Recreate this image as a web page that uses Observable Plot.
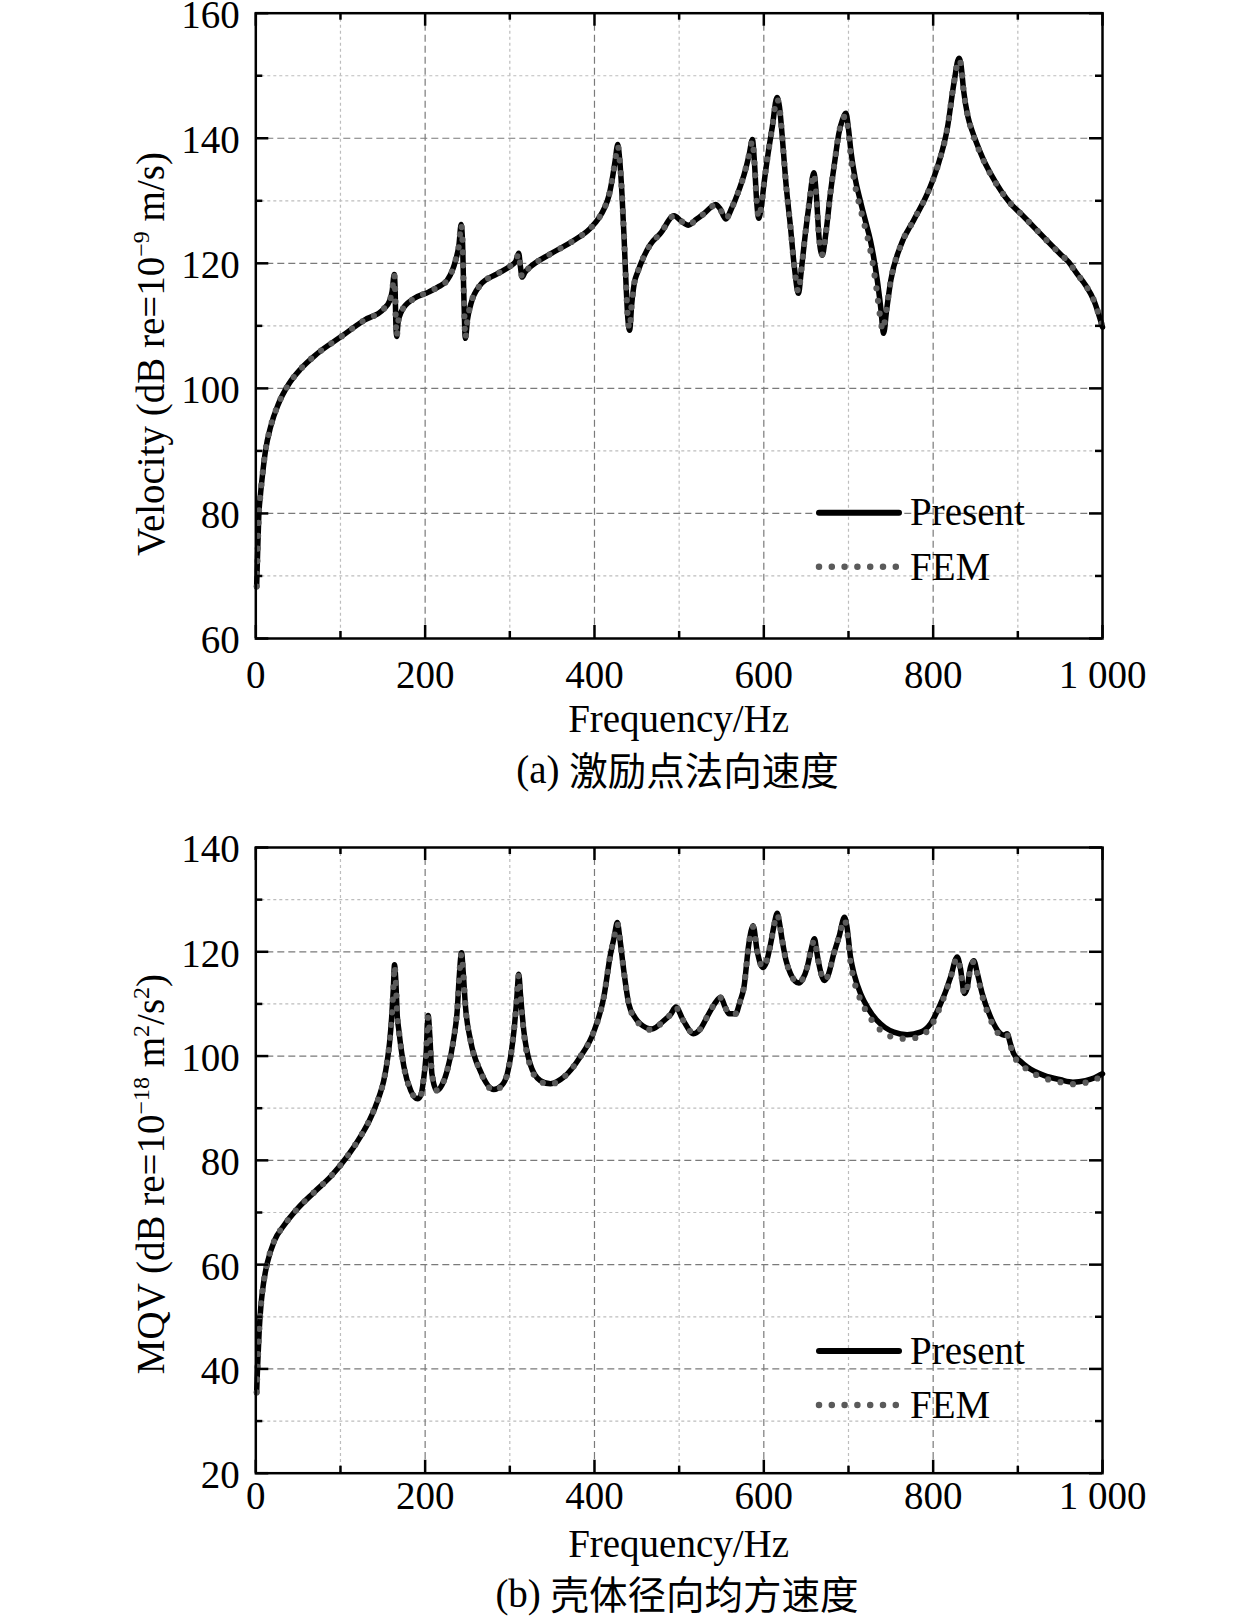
<!DOCTYPE html>
<html>
<head>
<meta charset="utf-8">
<script src="https://cdn.jsdelivr.net/npm/d3@7"></script>
<script src="https://cdn.jsdelivr.net/npm/@observablehq/plot@0.6"></script>
<style>
  body { margin: 0; background: white; }
  #wrap { position: relative; width: 1260px; height: 1619px; background: white; }
  #c1, #c2 { position: absolute; left: 0; }
  #c1 { top: 0; }
  #c2 { top: 800px; }
  #ov { position: absolute; left: 0; top: 0; pointer-events: none; }
</style>
</head>
<body>
<div id="wrap">
  <div id="c1"></div>
  <div id="c2"></div>
  <svg id="ov" width="1260" height="1619" font-family="'Liberation Serif','Times New Roman',serif" font-size="39" fill="black">
    <!-- chart (a) texts -->
    <text x="678.6" y="731.7" text-anchor="middle">Frequency/Hz</text>
    <text x="677.5" y="783" text-anchor="middle">(a) <tspan font-family="'Noto Sans CJK SC'" font-size="38.5" dy="2">激励点法向速度</tspan></text>
    <text transform="translate(164,354) rotate(-90)" text-anchor="middle">Velocity (dB re=10<tspan font-size="24" dy="-15">−9</tspan><tspan dy="15"> m/s)</tspan></text>
    <line x1="819" x2="899" y1="512.7" y2="512.7" stroke="black" stroke-width="6" stroke-linecap="round"/>
    <text x="910" y="525.2">Present</text>
    <line x1="819" x2="897" y1="566.7" y2="566.7" stroke="#5a5a5a" stroke-width="6.5" stroke-dasharray="0 12.8" stroke-linecap="round"/>
    <text x="910" y="579.8">FEM</text>
    <!-- chart (b) texts -->
    <text x="678.6" y="1556.7" text-anchor="middle">Frequency/Hz</text>
    <text x="677" y="1607" text-anchor="middle">(b) <tspan font-family="'Noto Sans CJK SC'" font-size="38.5" dy="2">壳体径向均方速度</tspan></text>
    <text transform="translate(164,1174) rotate(-90)" text-anchor="middle">MQV (dB re=10<tspan font-size="24" dy="-15">−18</tspan><tspan dy="15"> m</tspan><tspan font-size="24" dy="-15">2</tspan><tspan dy="15">/s</tspan><tspan font-size="24" dy="-15">2</tspan><tspan dy="15">)</tspan></text>
    <line x1="819" x2="899" y1="1351" y2="1351" stroke="black" stroke-width="6" stroke-linecap="round"/>
    <text x="910" y="1363.5">Present</text>
    <line x1="819" x2="897" y1="1405" y2="1405" stroke="#5a5a5a" stroke-width="6.5" stroke-dasharray="0 12.8" stroke-linecap="round"/>
    <text x="910" y="1418">FEM</text>
  </svg>
</div>
<script>
// ---------------- DATA ----------------
// x ticks (Hz)
const xMajor = [0, 200, 400, 600, 800, 1000];
const xMinor = [100, 300, 500, 700, 900];
// y ticks
const yMajorA = [60, 80, 100, 120, 140, 160];
const yMinorA = [70, 90, 110, 130, 150];
const yMajorB = [20, 40, 60, 80, 100, 120, 140];
const yMinorB = [30, 50, 70, 90, 110, 130];

// (a) drive-point normal velocity, Present  [Hz, dB]
const presentA = [
  [1,68.3],[2,73],[3.5,79.5],[5.5,83],[7.6,85.8],[11.5,90.1],[17.4,93.8],[27,97.6],[39,100.7],[53,103.1],
  [72,105.5],[100,108.2],[128,110.9],[151,112.7],[158,114],[161,115.5],[163.5,118.2],[164.5,116],[165.5,110],
  [166.5,108.3],[168,110.5],[172,112.3],[186,114.3],[204,115.4],[215,116.2],[226,117.3],[232,118.8],[236,120.5],
  [240,123],[242.5,126.2],[244,124],[245.5,116],[247.5,108],[250,111],[254,113.5],[265,116.5],[285,118.3],
  [300,119.5],[307,120.3],[310.5,121.6],[312.5,119.5],[314.5,117.8],[318,118.6],[324,119.4],[348,121.5],
  [375,123.6],[395,125.6],[405,127.2],[412,128.9],[417,130.8],[421,133.5],[424.5,136.5],[427.5,139],
  [429.5,137],[432.5,131],[435,124],[437,117.5],[439.5,111],[441.5,109.3],[444,113.5],[447,116.8],[451,118.6],
  [458,121],[466,123],[478,124.8],[494,127.6],[502,126.8],[511,126.1],[520,127],[529,127.9],[537,128.9],
  [543,129.4],[548,128.8],[555,127.1],[562,128.8],[569,131.1],[578,134.8],[583,137.6],[586.5,139.8],[589,136],
  [591.5,130],[594,127.2],[597,129],[600,132.5],[605,137.5],[610,141.8],[615.5,146.5],[618.5,145],[621.5,140.7],
  [626,133],[631.5,125.8],[636,119.5],[641,115.2],[644,118.5],[649,124.7],[654,130],[659,134.5],[662,131],
  [665,124.5],[669,121.3],[673,124.5],[679,131.6],[684,136.5],[688.5,140.7],[693,143],[697,144],[700,141.5],
  [703,137.8],[708,133.5],[714,130],[720,126.8],[726,123.6],[734,117.3],[738,113],[741.5,108.8],[745,112.5],
  [750,117.3],[761,122.6],[777,126.9],[793,131.1],[805,135.4],[817,141.8],[824.5,148.8],[830.5,152.8],
  [833,151.6],[836,147.6],[841,143.5],[846,141.2],[852,139],[860,136.4],[868,134.3],[880,131.6],[891,129.6],
  [903,128],[919,125.8],[931,124.1],[950,121.5],[960,120.2],[970,118.3],[980,116.5],[990,114],[1000,109.8]
];
// (a) FEM
const femA = [
  [1,68.3],[2,73],[3.5,79.5],[5.5,83],[7.6,85.8],[11.5,90.1],[17.4,93.8],[27,97.6],[39,100.7],[53,103.1],
  [72,105.5],[100,108.2],[128,110.9],[151,112.7],[158,114],[161,115.5],[163.5,118.2],[164.5,116],[165.5,110],
  [166.5,108.3],[168,110.5],[172,112.3],[186,114.3],[204,115.4],[215,116.2],[226,117.3],[232,118.8],[236,120.5],
  [240,123],[242.5,126.2],[244,124],[245.5,116],[247.5,108],[250,111],[254,113.5],[265,116.5],[285,118.3],
  [300,119.5],[307,120.3],[310.5,121.6],[312.5,119.5],[314.5,117.8],[318,118.6],[324,119.4],[348,121.5],
  [375,123.6],[395,125.6],[405,127.2],[412,128.9],[417,130.8],[421,133.5],[424.5,136.5],[427.5,138.8],
  [429.5,137],[432.5,131],[435,124],[437,117.5],[439.5,111],[441.5,109.5],[444,113.5],[447,116.8],[451,118.6],
  [458,121],[466,123],[478,124.8],[494,127.6],[502,126.8],[511,126.1],[520,127],[529,127.9],[537,128.9],
  [543,129.4],[548,128.8],[555,127.1],[562,128.8],[569,131.1],[578,134.8],[583,137.6],[586.5,139.6],[589,136],
  [591.5,130],[594,127.3],[597,129],[600,132.5],[605,137.5],[610,141.8],[615.5,146.3],[618.5,145],[621.5,140.7],
  [626,133],[631.5,125.8],[636,119.5],[641,115.4],[644,118.5],[649,124.7],[654,130],[659,134.3],[662,131],
  [665,124.5],[669,121.4],[673,124.5],[679,131.6],[684,136.5],[688.5,140.7],[693,143],[697,143.6],[700,140.8],
  [703,136.8],[708,132.3],[714,128.8],[720,125.5],[726,122],[733,116],[737,111.8],[740.5,109.3],[744.5,112.3],
  [750,117.3],[761,122.6],[777,126.9],[793,131.1],[805,135.4],[817,141.8],[824.5,148.8],[830.5,152.6],
  [833,151.6],[836,147.6],[841,143.5],[846,141],[852,138.8],[860,136.3],[868,134.2],[880,131.6],[891,129.6],
  [903,128],[919,125.8],[931,124.1],[950,121.5],[960,120.2],[970,118.3],[980,116.5],[990,114],[1000,109.8]
];

// (b) shell radial mean-square velocity, Present  [Hz, dB]
const presentB = [
  [1,35.5],[2,40],[4,47.3],[6,52],[8,55.1],[11,58.3],[14,60.6],[21.7,64.5],[33.6,67.6],[49,70.7],[69,73.9],
  [89,77],[108.7,80.9],[124.5,84.8],[134,87.6],[141,90.2],[146,92.4],[151,95.2],[155,98.8],[158,102.6],
  [160.5,107.5],[162.5,113],[163.8,117.5],[165.5,114],[167,108],[169,104.9],[175,97.9],[183,93.4],[191,91.8],
  [195,92.5],[198,95.3],[201,100],[203.6,107.8],[205.5,104],[208,96.6],[214,93.4],[220,94.5],[226,97.2],
  [234,103.6],[238,109],[240,114.5],[243,119.8],[245,116],[247.7,109.4],[253.6,103],[265,97.2],[281,93.6],
  [290,94.3],[297,96.6],[302,101],[305,105],[308,110.5],[310.6,115.7],[312.5,112],[316.5,104.9],[324,98.5],
  [336,95.3],[348,94.7],[364,96],[383,99.8],[399,104.6],[411,111.3],[419,119.6],[423,122.6],[427,125.6],
  [430,122.5],[434.6,116.4],[440.5,110],[447,107.6],[454,106.2],[468,105.2],[482,106.8],[490,108],[496,109.4],
  [505,106.8],[517,104.3],[525,105.2],[533,107.5],[541,109.8],[549,111.3],[554,109.5],[559,108.1],[566.5,108.1],
  [572,110.5],[576.5,113.2],[582.3,121.5],[587.4,125],[592,120.3],[598.8,117],[603,118],[608,121.5],[612,125],
  [615.8,127.4],[618.5,125.5],[621.7,122.2],[626,118.5],[631.5,115.8],[641.3,114],[646,114.8],[651.2,117],
  [656,120.5],[659.9,122.5],[662.5,120],[665,117.7],[671.7,114.5],[676,115.5],[682.6,119.6],[689,123],
  [695.3,126.6],[698,125],[702.4,119],[707,115.5],[714.2,112],[723,109.2],[733.9,106.8],[743,105.5],
  [753.5,104.6],[769.3,104.1],[785,104.6],[796.9,106.2],[808.7,110],[815,112.5],[820.5,115.1],[828.4,119],
  [832,117],[837,112],[840,113],[844,117],[848,118.3],[852,116],[857.9,112],[867.7,107.5],[879.5,104.3],
  [884,104],[887.4,104.3],[891,102.5],[895.3,100.4],[903,99],[911.1,97.9],[930.7,96.3],[950.4,95.45],
  [965,95],[980,95.3],[990,95.8],[1000,96.6]
];
// (b) FEM
const femB = [
  [1,35.5],[2,40],[4,47.3],[6,52],[8,55.1],[11,58.3],[14,60.6],[21.7,64.5],[33.6,67.6],[49,70.7],[69,73.9],
  [89,77],[108.7,80.9],[124.5,84.8],[134,87.6],[141,90.2],[146,92.4],[151,95.2],[155,98.8],[158,102.6],
  [160.5,107.5],[162.5,113],[163.8,117.3],[165.5,114],[167,108],[169,104.9],[175,97.9],[183,93.4],[191,91.8],
  [195,92.5],[198,95.3],[201,100],[203.6,107.6],[205.5,104],[208,96.6],[214,93.4],[220,94.5],[226,97.2],
  [234,103.6],[238,109],[240,114.5],[243,119.6],[245,116],[247.7,109.4],[253.6,103],[265,97.2],[281,93.4],
  [290,94.2],[297,96.6],[302,101],[305,105],[308,110.5],[310.6,115.5],[312.5,112],[316.5,104.5],[324,98.2],
  [336,95.1],[348,94.6],[364,96],[383,99.8],[399,104.6],[411,111.3],[419,119.6],[423,122.6],[427,125.4],
  [430,122.5],[434.6,116.4],[440.5,110],[447,107.4],[454,106],[468,105],[482,106.8],[490,108],[496,109.3],
  [505,106.8],[517,104.3],[525,105.2],[533,107.5],[541,109.8],[549,111.2],[554,109.5],[559,108.1],[566.5,108.1],
  [572,110.5],[576.5,113.2],[582.3,121.5],[587.4,124.8],[592,120.3],[598.8,117],[603,118],[608,121.5],[612,125],
  [615.8,127.2],[618.5,125.5],[621.7,122.2],[626,118.5],[631.5,115.8],[641.3,114],[646,114.8],[651.2,117],
  [656,120.5],[659.9,122.3],[662.5,120],[665,117.7],[671.7,114.5],[676,115.5],[682.6,119.6],[689,123],
  [695.3,126.2],[698,124.5],[702.4,118],[707,114.2],[714.2,110.8],[723,108],[733.9,105.6],[743,104.3],
  [753.5,103.6],[769.3,103.3],[785,103.8],[796.9,105.6],[808.7,109.6],[815,112.3],[820.5,115],[828.4,118.8],
  [832,116.8],[837,111.8],[840,112.8],[844,116.8],[848,118.1],[852,115.8],[857.9,111.6],[867.7,107],
  [879.5,103.9],[884,103.6],[887.4,104],[891,102.2],[895.3,100],[903,98.6],[911.1,97.4],[930.7,95.8],
  [950.4,95],[965,94.6],[980,94.9],[990,95.4],[1000,96.2]
];

// ---------------- CHARTS ----------------
const ML = 255.3, MR = 158;
const toObj = arr => arr.map(([f, v]) => ({f, v}));
const fmtX = d => d === 1000 ? "1 000" : String(d);

function chart(cfg) {
  const innerW = 1260 - ML - MR;
  const innerH = cfg.height - cfg.mt - cfg.mb;
  const yMaj = cfg.yMajor, yMin = cfg.yMinor;
  const [y0, y1] = cfg.yDomain;
  const tickStyle = {stroke: "black", strokeWidth: 2.5};
  const majGrid = {stroke: "#7a7a7a", strokeDasharray: "7,4", strokeWidth: 1.2};
  const minGrid = {stroke: "#bdbdbd", strokeDasharray: "3,3", strokeWidth: 1.2};
  return Plot.plot({
    width: 1260,
    height: cfg.height,
    marginLeft: ML,
    marginRight: MR,
    marginTop: cfg.mt,
    marginBottom: cfg.mb,
    x: {domain: [0, 1000]},
    y: {domain: cfg.yDomain},
    style: {fontFamily: "'Liberation Serif','Times New Roman',serif", fontSize: "39px", background: "transparent", color: "black", overflow: "visible"},
    marks: [
      Plot.ruleX(xMinor, minGrid),
      Plot.ruleY(yMin, minGrid),
      Plot.ruleX(xMajor.filter(d => d > 0 && d < 1000), majGrid),
      Plot.ruleY(yMaj.filter(d => d > y0 && d < y1), majGrid),
      Plot.line(toObj(cfg.present), {x: "f", y: "v", stroke: "black", strokeWidth: 5.5, curve: "monotone-x"}),
      Plot.line(toObj(cfg.fem), {x: "f", y: "v", stroke: "#5a5a5a", strokeWidth: 6.2, strokeDasharray: "0 12.7", strokeLinecap: "round", curve: "monotone-x"}),
      Plot.frame({stroke: "black", strokeWidth: 2.5}),
      Plot.tickY(yMaj, {y: d => d, insetRight: innerW - 13, ...tickStyle}),
      Plot.tickY(yMaj, {y: d => d, insetLeft: innerW - 13, ...tickStyle}),
      Plot.tickY(yMin, {y: d => d, insetRight: innerW - 7, ...tickStyle}),
      Plot.tickY(yMin, {y: d => d, insetLeft: innerW - 7, ...tickStyle}),
      Plot.tickX(xMajor, {x: d => d, insetTop: innerH - 13, ...tickStyle}),
      Plot.tickX(xMajor, {x: d => d, insetBottom: innerH - 13, ...tickStyle}),
      Plot.tickX(xMinor, {x: d => d, insetTop: innerH - 7, ...tickStyle}),
      Plot.tickX(xMinor, {x: d => d, insetBottom: innerH - 7, ...tickStyle}),
      Plot.axisX(xMajor, {tickSize: 0, tickPadding: cfg.xPad, tickFormat: fmtX, fontSize: 39, label: null}),
      Plot.axisY(yMaj, {tickSize: 0, tickPadding: 16, dy: 2.5, tickFormat: d => String(d), fontSize: 39, label: null})
    ]
  });
}

document.getElementById("c1").appendChild(chart({
  height: 700, mt: 12.7, mb: 62, xPad: 21.3,
  yDomain: [60, 160], yMajor: yMajorA, yMinor: yMinorA,
  present: presentA, fem: femA
}));
document.getElementById("c2").appendChild(chart({
  height: 740, mt: 47, mb: 67.3, xPad: 7.6,
  yDomain: [20, 140], yMajor: yMajorB, yMinor: yMinorB,
  present: presentB, fem: femB
}));
</script>
</body>
</html>
